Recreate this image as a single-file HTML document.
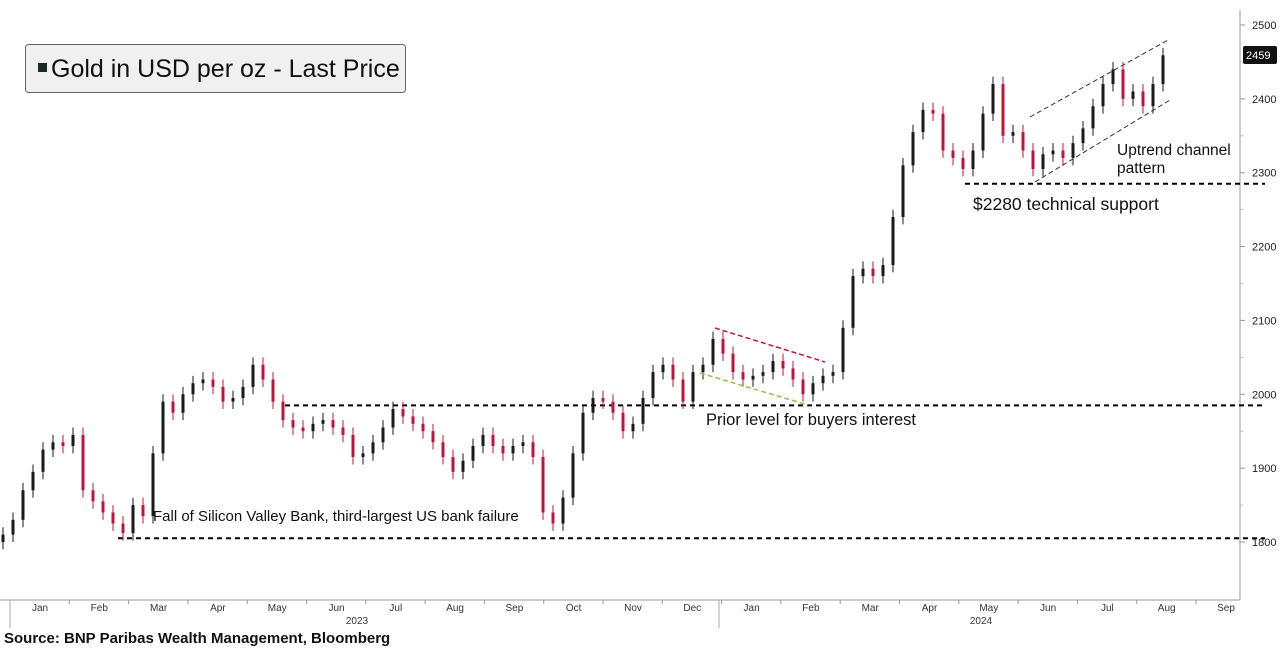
<!DOCTYPE html>
<html><head><meta charset="utf-8">
<style>
body{margin:0;background:#fff;font-family:"Liberation Sans",sans-serif;}
svg{display:block}
</style></head>
<body>
<svg id="chart" width="1280" height="648" viewBox="0 0 1280 648" font-family="Liberation Sans, sans-serif">
</svg>
<script>
const closes=[1810,1830,1870,1895,1925,1935,1930,1945,1870,1855,1840,1825,1812,1850,1835,1920,1990,1975,2000,2015,2020,2010,1990,1995,2010,2040,2020,1990,1965,1955,1950,1960,1965,1955,1945,1915,1920,1935,1955,1980,1970,1960,1950,1935,1915,1895,1910,1930,1945,1930,1920,1930,1935,1915,1840,1825,1860,1920,1975,1995,1990,1975,1950,1960,1995,2030,2040,2020,1990,2030,2040,2075,2055,2030,2020,2025,2030,2045,2035,2020,2000,2015,2025,2030,2090,2160,2170,2160,2175,2240,2310,2355,2385,2380,2330,2320,2305,2330,2380,2420,2350,2355,2330,2305,2325,2330,2320,2340,2360,2390,2420,2440,2400,2410,2390,2420,2459];
const yTicks=[1800,1900,2000,2100,2200,2300,2400,2500];
const months=["Jan","Feb","Mar","Apr","May","Jun","Jul","Aug","Sep","Oct","Nov","Dec","Jan","Feb","Mar","Apr","May","Jun","Jul","Aug","Sep"];
const supports=[1805,1985,2285];
const NS="http://www.w3.org/2000/svg";
const svg=document.getElementById('chart');
function x(i){return 3+10*i;}
function y(p){return 542-(p-1800)*0.7386;}
function mk(t,a,txt){const e=document.createElementNS(NS,t);for(const k in a)e.setAttribute(k,a[k]);if(txt!==undefined)e.textContent=txt;svg.appendChild(e);return e;}
let e=mk('line',{x1:1240,y1:10,x2:1240,y2:600,stroke:'#999'});


e=mk('line',{x1:0,y1:600,x2:1240,y2:600,stroke:'#999'});


yTicks.forEach(v=>{
 mk('line',{x1:1240,y1:y(v),x2:1245,y2:y(v),stroke:'#999'});
 const t=mk('text',{x:1252,y:y(v)+4,'font-size':11,fill:'#222'},v);
 
 
 mk('line',{x1:1240,y1:y(v+50),x2:1243,y2:y(v+50),stroke:'#bbb'});
});
months.forEach((m,k)=>{
 const cx=40+k*59.3;
 const t=mk('text',{x:cx,y:611,'font-size':10,fill:'#333','text-anchor':'middle'},m);
 
 
 mk('line',{x1:cx-30,y1:600,x2:cx-30,y2:604,stroke:'#999'});
});
mk('line',{x1:10,y1:600,x2:10,y2:628,stroke:'#aaa'});
mk('line',{x1:719,y1:600,x2:719,y2:628,stroke:'#aaa'});
e=mk('text',{x:357,y:624,'font-size':10,fill:'#333','text-anchor':'middle'},'2023');


e=mk('text',{x:981,y:624,'font-size':10,fill:'#333','text-anchor':'middle'},'2024');


const starts=[118,285,965];
supports.forEach((v,k)=>{
 const l=mk('line',{x1:starts[k],y1:y(v),x2:1265,y2:y(v),stroke:'#000','stroke-width':2,'stroke-dasharray':'5,4'});
 
 
});
closes.forEach((c,i)=>{
 const o=i>0?closes[i-1]:c-10;
 const hi=Math.max(o,c)+10, lo=Math.min(o,c)-10;
 const col=c>=o?'#1a1a1a':'#c0143c';
 const w=mk('line',{x1:x(i),y1:y(hi),x2:x(i),y2:y(lo),stroke:col,'stroke-width':1});
 
 
 const top=y(Math.max(o,c)),h=Math.max(1,Math.abs(y(o)-y(c)));
 const r=mk('rect',{x:x(i)-1.5,y:top,width:3,height:h,fill:col});
 
 
});
mk('line',{x1:715,y1:328,x2:825,y2:362,stroke:'#c0143c','stroke-width':1.5,'stroke-dasharray':'5,3'});
mk('line',{x1:700,y1:373,x2:808,y2:405,stroke:'#8dc63f','stroke-width':1.5,'stroke-dasharray':'5,3'});
mk('line',{x1:1030,y1:117,x2:1168,y2:40,stroke:'#333','stroke-width':1,'stroke-dasharray':'5,3'});
mk('line',{x1:1035,y1:182,x2:1170,y2:100,stroke:'#333','stroke-width':1,'stroke-dasharray':'5,3'});
const ann=[[153,521,'Fall of Silicon Valley Bank, third-largest US bank failure',15],[706,425,'Prior level for buyers interest',16.5],[973,210,'$2280 technical support',17.5],[1117,155,'Uptrend channel',15.5],[1117,173,'pattern',15.5]];
ann.forEach(a=>{const t=mk('text',{x:a[0],y:a[1],'font-size':a[3],fill:'#111'},a[2]);
 
 });
e=mk('rect',{x:1243,y:46,width:34,height:18,fill:'#111',rx:2});


mk('text',{x:1246,y:59,'font-size':11,fill:'#fff'},'2459');
e=mk('rect',{x:25.5,y:44.5,width:380,height:48,fill:'#f0f0f0',stroke:'#666',rx:3});


mk('rect',{x:38,y:63,width:9,height:9,fill:'#1e2a2a'});
e=mk('text',{x:51,y:77,'font-size':25,fill:'#111'},'Gold in USD per oz - Last Price');


e=mk('text',{x:4,y:643,'font-size':15,'font-weight':'bold',fill:'#111'},'Source: BNP Paribas Wealth Management, Bloomberg');


</script>
</body></html>
